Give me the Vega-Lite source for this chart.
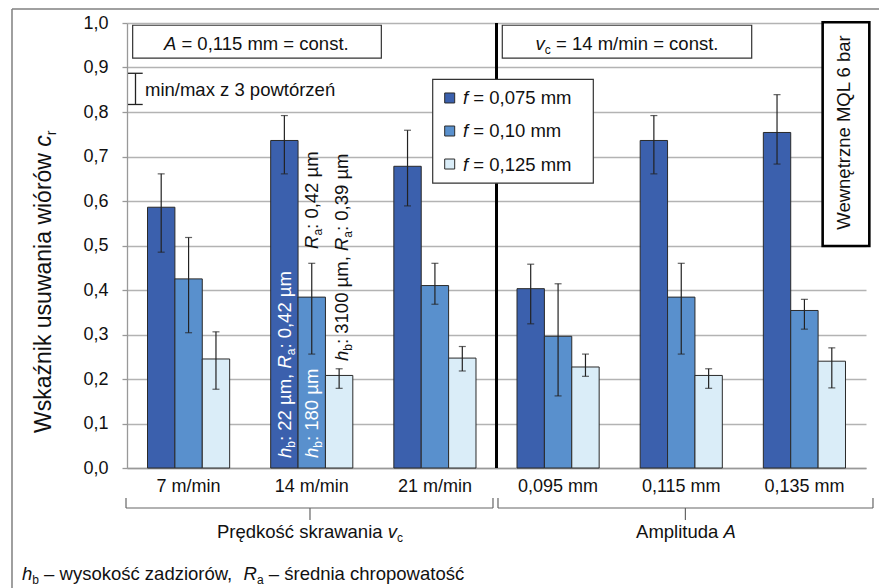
{
"$schema":"https://vega.github.io/schema/vega-lite/v6.json",
"width":739,"height":445,
"autosize":{"type":"none"},
"padding":{"left":127,"top":23,"right":13,"bottom":120},
"background":"white",
"config":{"view":{"stroke":null},"font":"Liberation Sans"},
"datasets":{
"bars":[
{"g":"7 m/min","f":"0,075","val":0.586,"lo":0.485,"hi":0.661},
{"g":"7 m/min","f":"0,10","val":0.425,"lo":0.304,"hi":0.518},
{"g":"7 m/min","f":"0,125","val":0.245,"lo":0.177,"hi":0.306},
{"g":"14 m/min","f":"0,075","val":0.736,"lo":0.661,"hi":0.792},
{"g":"14 m/min","f":"0,10","val":0.384,"lo":0.256,"hi":0.460},
{"g":"14 m/min","f":"0,125","val":0.208,"lo":0.179,"hi":0.223},
{"g":"21 m/min","f":"0,075","val":0.678,"lo":0.589,"hi":0.759},
{"g":"21 m/min","f":"0,10","val":0.410,"lo":0.368,"hi":0.460},
{"g":"21 m/min","f":"0,125","val":0.247,"lo":0.218,"hi":0.273},
{"g":"0,095 mm","f":"0,075","val":0.403,"lo":0.324,"hi":0.458},
{"g":"0,095 mm","f":"0,10","val":0.296,"lo":0.162,"hi":0.414},
{"g":"0,095 mm","f":"0,125","val":0.227,"lo":0.206,"hi":0.256},
{"g":"0,115 mm","f":"0,075","val":0.736,"lo":0.661,"hi":0.792},
{"g":"0,115 mm","f":"0,10","val":0.384,"lo":0.256,"hi":0.460},
{"g":"0,115 mm","f":"0,125","val":0.208,"lo":0.179,"hi":0.223},
{"g":"0,135 mm","f":"0,075","val":0.754,"lo":0.683,"hi":0.839},
{"g":"0,135 mm","f":"0,10","val":0.354,"lo":0.312,"hi":0.379},
{"g":"0,135 mm","f":"0,125","val":0.240,"lo":0.180,"hi":0.270}
],
"frameH":[{"u":-0.9337,"u2":6.4,"v":1.0315}],
"frameV":[{"u":-0.9337,"v":1.0315,"v2":-0.35}],
"sep":[{"u":3,"v":0,"v2":1}],
"brH":[{"u":-0.0081,"u2":2.9715,"v":-0.0899},{"u":3.0121,"u2":6.0567,"v":-0.0899}],
"brV":[
{"u":-0.0081,"v":-0.0899,"v2":-0.0674},{"u":2.9715,"v":-0.0899,"v2":-0.0674},
{"u":3.0121,"v":-0.0899,"v2":-0.0674},{"u":6.0567,"v":-0.0899,"v2":-0.0674},
{"u":1.4857,"v":-0.0899,"v2":-0.1169},{"u":4.5336,"v":-0.0899,"v2":-0.1169}],
"elV":[{"u":0.069,"v":0.8169,"v2":0.887}],
"elH":[{"u":0.0081,"u2":0.1275,"v":0.8169},{"u":0.0081,"u2":0.1275,"v":0.887}],
"boxes":[{"u":0.046,"u2":2.065,"v":0.921,"v2":0.995},{"u":3.047,"u2":5.072,"v":0.921,"v2":0.995}],
"legBox":[{"u":2.482,"u2":3.786,"v":0.640,"v2":0.8735}],
"mqlBox":[{"u":5.648,"u2":6.027,"v":0.499,"v2":1.0016}],
"legSq":[{"f":"0,075","u":2.620,"v":0.8315},{"f":"0,10","u":2.620,"v":0.7573},{"f":"0,125","u":2.620,"v":0.6831}],
"hNormal":[
{"t":"= 0,115 mm = const.","u":0.4417,"v":0.939},
{"t":"= 14 m/min = const.","u":3.4830,"v":0.939},
{"t":"min/max z 3 powtórzeń","u":0.146,"v":0.836},
{"t":"= 0,075 mm","u":2.8116,"v":0.8169},
{"t":"= 0,10 mm","u":2.8116,"v":0.7427},
{"t":"= 0,125 mm","u":2.8116,"v":0.6685},
{"t":"Prędkość skrawania","u":0.7307,"v":-0.1573},
{"t":"Amplituda","u":4.1332,"v":-0.1573},
{"t":"– wysokość zadziorów,","u":-0.6731,"v":-0.2517},
{"t":"– średnia chropowatość","u":1.1513,"v":-0.2517}],
"hItalic":[
{"t":"A","u":0.2996,"v":0.939},
{"t":"v","u":3.3174,"v":0.939},
{"t":"f","u":2.728,"v":0.8169},
{"t":"f","u":2.728,"v":0.7427},
{"t":"f","u":2.728,"v":0.6685},
{"t":"v","u":2.1166,"v":-0.1573},
{"t":"A","u":4.8428,"v":-0.1573},
{"t":"h","u":-0.8525,"v":-0.2517},
{"t":"R","u":0.9466,"v":-0.2517}],
"hSub":[
{"t":"c","u":3.3925,"v":0.939},
{"t":"c","u":2.1917,"v":-0.1573},
{"t":"b","u":-0.7686,"v":-0.2517},
{"t":"a","u":1.0553,"v":-0.2517}],
"rNormalBlack":[
{"t":"Wewnętrzne MQL 6 bar","u":5.870,"v":0.5355},
{"t":": 0,42 µm","u":1.5507,"v":0.5373},
{"t":": 3100 µm,","u":1.7943,"v":0.27865},
{"t":": 0,39 µm","u":1.7943,"v":0.53258}],
"rItalicBlack":[
{"t":"R","u":1.5507,"v":0.49213},
{"t":"h","u":1.7943,"v":0.24045},
{"t":"R","u":1.7943,"v":0.48742}],
"rSubBlack":[
{"t":"a","u":1.5507,"v":0.52225},
{"t":"b","u":1.7943,"v":0.26360},
{"t":"a","u":1.7943,"v":0.51753}],
"rNormalWhite":[
{"t":": 22 µm,","u":1.3315,"v":0.06067},
{"t":": 0,42 µm","u":1.3315,"v":0.26831},
{"t":": 180 µm","u":1.5507,"v":0.06067}],
"rItalicWhite":[
{"t":"h","u":1.3315,"v":0.02247},
{"t":"R","u":1.3315,"v":0.22337},
{"t":"h","u":1.5507,"v":0.02247}],
"rSubWhite":[
{"t":"b","u":1.3315,"v":0.04562},
{"t":"a","u":1.3315,"v":0.25326},
{"t":"b","u":1.5507,"v":0.04562}],
"titleN":[{"t":"Wskaźnik usuwania wiórów","u":-0.6211,"v":0.0787}],
"titleI":[{"t":"c","u":-0.6211,"v":0.7220}],
"titleS":[{"t":"r","u":-0.6211,"v":0.7479}]
},
"layer":[
{"data":{"name":"frameH"},"mark":{"type":"rule","color":"#808080","strokeWidth":1.5},
 "encoding":{"x":{"field":"u","type":"quantitative","scale":{"domain":[0,6],"nice":false,"zero":false},"axis":null},"x2":{"field":"u2"},"y":{"field":"v","type":"quantitative","scale":{"domain":[0,1],"nice":false},"axis":null}}},
{"data":{"name":"frameV"},"mark":{"type":"rule","color":"#808080","strokeWidth":1.5},
 "encoding":{"x":{"field":"u","type":"quantitative","scale":{"domain":[0,6],"nice":false,"zero":false},"axis":null},"y":{"field":"v","type":"quantitative","scale":{"domain":[0,1],"nice":false},"axis":null},"y2":{"field":"v2"}}},
{"data":{"name":"bars"},"mark":{"type":"bar","stroke":"#2a2a2a","strokeWidth":1},
 "encoding":{
  "x":{"field":"g","type":"nominal","sort":["7 m/min","14 m/min","21 m/min","0,095 mm","0,115 mm","0,135 mm"],"scale":{"paddingInner":0.333,"paddingOuter":0.1665},
   "axis":{"title":null,"orient":"bottom","ticks":false,"grid":false,"domainColor":"#999999","domainWidth":1.3,"labelFontSize":18,"labelPadding":9,"labelColor":"#111111","labelAngle":0,"labelFont":"Liberation Sans"}},
  "xOffset":{"field":"f","type":"nominal","sort":["0,075","0,10","0,125"],"scale":{"paddingInner":0,"paddingOuter":0}},
  "y":{"field":"val","type":"quantitative","scale":{"domain":[0,1],"nice":false},
   "axis":{"title":null,"orient":"left","grid":true,"gridColor":"#b3b3b3","gridWidth":1.3,"domainColor":"#999999","domainWidth":1.3,"tickColor":"#999999","tickSize":5,"tickWidth":1.3,"labelFontSize":18,"labelPadding":14,"labelColor":"#111111","labelFont":"Liberation Sans","values":[0,0.1,0.2,0.3,0.4,0.5,0.6,0.7,0.8,0.9,1],"labelExpr":"replace(format(datum.value,'.1f'),'.',',')"}},
  "color":{"field":"f","type":"nominal","scale":{"domain":["0,075","0,10","0,125"],"range":["#3b60ad","#5990cd","#daedf8"]},"legend":null}}},
{"data":{"name":"bars"},"mark":{"type":"rule","color":"#222222","strokeWidth":1.2},
 "encoding":{
  "x":{"field":"g","type":"nominal","sort":["7 m/min","14 m/min","21 m/min","0,095 mm","0,115 mm","0,135 mm"],"scale":{"paddingInner":0.333,"paddingOuter":0.1665},"axis":null},
  "xOffset":{"field":"f","type":"nominal","sort":["0,075","0,10","0,125"]},
  "y":{"field":"lo","type":"quantitative","scale":{"domain":[0,1],"nice":false},"axis":null},"y2":{"field":"hi"}}},
{"data":{"name":"bars"},"mark":{"type":"tick","color":"#222222","size":7,"thickness":1.2,"orient":"horizontal"},
 "encoding":{
  "x":{"field":"g","type":"nominal","sort":["7 m/min","14 m/min","21 m/min","0,095 mm","0,115 mm","0,135 mm"],"scale":{"paddingInner":0.333,"paddingOuter":0.1665},"axis":null},
  "xOffset":{"field":"f","type":"nominal","sort":["0,075","0,10","0,125"]},
  "y":{"field":"lo","type":"quantitative","scale":{"domain":[0,1],"nice":false},"axis":null}}},
{"data":{"name":"bars"},"mark":{"type":"tick","color":"#222222","size":7,"thickness":1.2,"orient":"horizontal"},
 "encoding":{
  "x":{"field":"g","type":"nominal","sort":["7 m/min","14 m/min","21 m/min","0,095 mm","0,115 mm","0,135 mm"],"scale":{"paddingInner":0.333,"paddingOuter":0.1665},"axis":null},
  "xOffset":{"field":"f","type":"nominal","sort":["0,075","0,10","0,125"]},
  "y":{"field":"hi","type":"quantitative","scale":{"domain":[0,1],"nice":false},"axis":null}}},
{"data":{"name":"sep"},"mark":{"type":"rule","color":"#000000","strokeWidth":3},
 "encoding":{"x":{"field":"u","type":"quantitative","scale":{"domain":[0,6],"nice":false,"zero":false},"axis":null},"y":{"field":"v","type":"quantitative","scale":{"domain":[0,1],"nice":false},"axis":null},"y2":{"field":"v2"}}},
{"data":{"name":"brH"},"mark":{"type":"rule","color":"#666666","strokeWidth":1.2},
 "encoding":{"x":{"field":"u","type":"quantitative","scale":{"domain":[0,6],"nice":false,"zero":false},"axis":null},"x2":{"field":"u2"},"y":{"field":"v","type":"quantitative","scale":{"domain":[0,1],"nice":false},"axis":null}}},
{"data":{"name":"brV"},"mark":{"type":"rule","color":"#666666","strokeWidth":1.2},
 "encoding":{"x":{"field":"u","type":"quantitative","scale":{"domain":[0,6],"nice":false,"zero":false},"axis":null},"y":{"field":"v","type":"quantitative","scale":{"domain":[0,1],"nice":false},"axis":null},"y2":{"field":"v2"}}},
{"data":{"name":"elV"},"mark":{"type":"rule","color":"#222222","strokeWidth":1.3},
 "encoding":{"x":{"field":"u","type":"quantitative","scale":{"domain":[0,6],"nice":false,"zero":false},"axis":null},"y":{"field":"v","type":"quantitative","scale":{"domain":[0,1],"nice":false},"axis":null},"y2":{"field":"v2"}}},
{"data":{"name":"elH"},"mark":{"type":"rule","color":"#222222","strokeWidth":1.3},
 "encoding":{"x":{"field":"u","type":"quantitative","scale":{"domain":[0,6],"nice":false,"zero":false},"axis":null},"x2":{"field":"u2"},"y":{"field":"v","type":"quantitative","scale":{"domain":[0,1],"nice":false},"axis":null}}},
{"data":{"name":"boxes"},"mark":{"type":"rect","fill":"white","stroke":"#333333","strokeWidth":1.2},
 "encoding":{"x":{"field":"u","type":"quantitative","scale":{"domain":[0,6],"nice":false,"zero":false},"axis":null},"x2":{"field":"u2"},"y":{"field":"v","type":"quantitative","scale":{"domain":[0,1],"nice":false},"axis":null},"y2":{"field":"v2"}}},
{"data":{"name":"legBox"},"mark":{"type":"rect","fill":"white","stroke":"#333333","strokeWidth":1.2},
 "encoding":{"x":{"field":"u","type":"quantitative","scale":{"domain":[0,6],"nice":false,"zero":false},"axis":null},"x2":{"field":"u2"},"y":{"field":"v","type":"quantitative","scale":{"domain":[0,1],"nice":false},"axis":null},"y2":{"field":"v2"}}},
{"data":{"name":"mqlBox"},"mark":{"type":"rect","fill":"white","stroke":"#000000","strokeWidth":2.6},
 "encoding":{"x":{"field":"u","type":"quantitative","scale":{"domain":[0,6],"nice":false,"zero":false},"axis":null},"x2":{"field":"u2"},"y":{"field":"v","type":"quantitative","scale":{"domain":[0,1],"nice":false},"axis":null},"y2":{"field":"v2"}}},
{"data":{"name":"legSq"},"mark":{"type":"square","size":100,"opacity":1,"stroke":"#2a2a2a","strokeWidth":1},
 "encoding":{"x":{"field":"u","type":"quantitative","scale":{"domain":[0,6],"nice":false,"zero":false},"axis":null},"y":{"field":"v","type":"quantitative","scale":{"domain":[0,1],"nice":false},"axis":null},"color":{"field":"f","type":"nominal","legend":null}}},
{"data":{"name":"hNormal"},"mark":{"type":"text","align":"left","baseline":"alphabetic","fontSize":18.5,"color":"#111111"},
 "encoding":{"x":{"field":"u","type":"quantitative","scale":{"domain":[0,6],"nice":false,"zero":false},"axis":null},"y":{"field":"v","type":"quantitative","scale":{"domain":[0,1],"nice":false},"axis":null},"text":{"field":"t"}}},
{"data":{"name":"hItalic"},"mark":{"type":"text","align":"left","baseline":"alphabetic","fontSize":18.5,"fontStyle":"italic","color":"#111111"},
 "encoding":{"x":{"field":"u","type":"quantitative","scale":{"domain":[0,6],"nice":false,"zero":false},"axis":null},"y":{"field":"v","type":"quantitative","scale":{"domain":[0,1],"nice":false},"axis":null},"text":{"field":"t"}}},
{"data":{"name":"hSub"},"mark":{"type":"text","align":"left","baseline":"alphabetic","fontSize":12,"dy":4,"color":"#111111"},
 "encoding":{"x":{"field":"u","type":"quantitative","scale":{"domain":[0,6],"nice":false,"zero":false},"axis":null},"y":{"field":"v","type":"quantitative","scale":{"domain":[0,1],"nice":false},"axis":null},"text":{"field":"t"}}},
{"data":{"name":"rNormalBlack"},"mark":{"type":"text","angle":270,"align":"left","baseline":"alphabetic","fontSize":18.5,"color":"#111111"},
 "encoding":{"x":{"field":"u","type":"quantitative","scale":{"domain":[0,6],"nice":false,"zero":false},"axis":null},"y":{"field":"v","type":"quantitative","scale":{"domain":[0,1],"nice":false},"axis":null},"text":{"field":"t"}}},
{"data":{"name":"rItalicBlack"},"mark":{"type":"text","angle":270,"align":"left","baseline":"alphabetic","fontSize":18.5,"fontStyle":"italic","color":"#111111"},
 "encoding":{"x":{"field":"u","type":"quantitative","scale":{"domain":[0,6],"nice":false,"zero":false},"axis":null},"y":{"field":"v","type":"quantitative","scale":{"domain":[0,1],"nice":false},"axis":null},"text":{"field":"t"}}},
{"data":{"name":"rSubBlack"},"mark":{"type":"text","angle":270,"align":"left","baseline":"alphabetic","fontSize":12,"dy":4,"color":"#111111"},
 "encoding":{"x":{"field":"u","type":"quantitative","scale":{"domain":[0,6],"nice":false,"zero":false},"axis":null},"y":{"field":"v","type":"quantitative","scale":{"domain":[0,1],"nice":false},"axis":null},"text":{"field":"t"}}},
{"data":{"name":"rNormalWhite"},"mark":{"type":"text","angle":270,"align":"left","baseline":"alphabetic","fontSize":18.5,"color":"#ffffff"},
 "encoding":{"x":{"field":"u","type":"quantitative","scale":{"domain":[0,6],"nice":false,"zero":false},"axis":null},"y":{"field":"v","type":"quantitative","scale":{"domain":[0,1],"nice":false},"axis":null},"text":{"field":"t"}}},
{"data":{"name":"rItalicWhite"},"mark":{"type":"text","angle":270,"align":"left","baseline":"alphabetic","fontSize":18.5,"fontStyle":"italic","color":"#ffffff"},
 "encoding":{"x":{"field":"u","type":"quantitative","scale":{"domain":[0,6],"nice":false,"zero":false},"axis":null},"y":{"field":"v","type":"quantitative","scale":{"domain":[0,1],"nice":false},"axis":null},"text":{"field":"t"}}},
{"data":{"name":"rSubWhite"},"mark":{"type":"text","angle":270,"align":"left","baseline":"alphabetic","fontSize":12,"dy":4,"color":"#ffffff"},
 "encoding":{"x":{"field":"u","type":"quantitative","scale":{"domain":[0,6],"nice":false,"zero":false},"axis":null},"y":{"field":"v","type":"quantitative","scale":{"domain":[0,1],"nice":false},"axis":null},"text":{"field":"t"}}},
{"data":{"name":"titleN"},"mark":{"type":"text","angle":270,"align":"left","baseline":"alphabetic","fontSize":23,"color":"#111111"},
 "encoding":{"x":{"field":"u","type":"quantitative","scale":{"domain":[0,6],"nice":false,"zero":false},"axis":null},"y":{"field":"v","type":"quantitative","scale":{"domain":[0,1],"nice":false},"axis":null},"text":{"field":"t"}}},
{"data":{"name":"titleI"},"mark":{"type":"text","angle":270,"align":"left","baseline":"alphabetic","fontSize":23,"fontStyle":"italic","color":"#111111"},
 "encoding":{"x":{"field":"u","type":"quantitative","scale":{"domain":[0,6],"nice":false,"zero":false},"axis":null},"y":{"field":"v","type":"quantitative","scale":{"domain":[0,1],"nice":false},"axis":null},"text":{"field":"t"}}},
{"data":{"name":"titleS"},"mark":{"type":"text","angle":270,"align":"left","baseline":"alphabetic","fontSize":14,"dy":5,"color":"#111111"},
 "encoding":{"x":{"field":"u","type":"quantitative","scale":{"domain":[0,6],"nice":false,"zero":false},"axis":null},"y":{"field":"v","type":"quantitative","scale":{"domain":[0,1],"nice":false},"axis":null},"text":{"field":"t"}}}
],
"resolve":{"scale":{"x":"independent","y":"independent"}}
}
